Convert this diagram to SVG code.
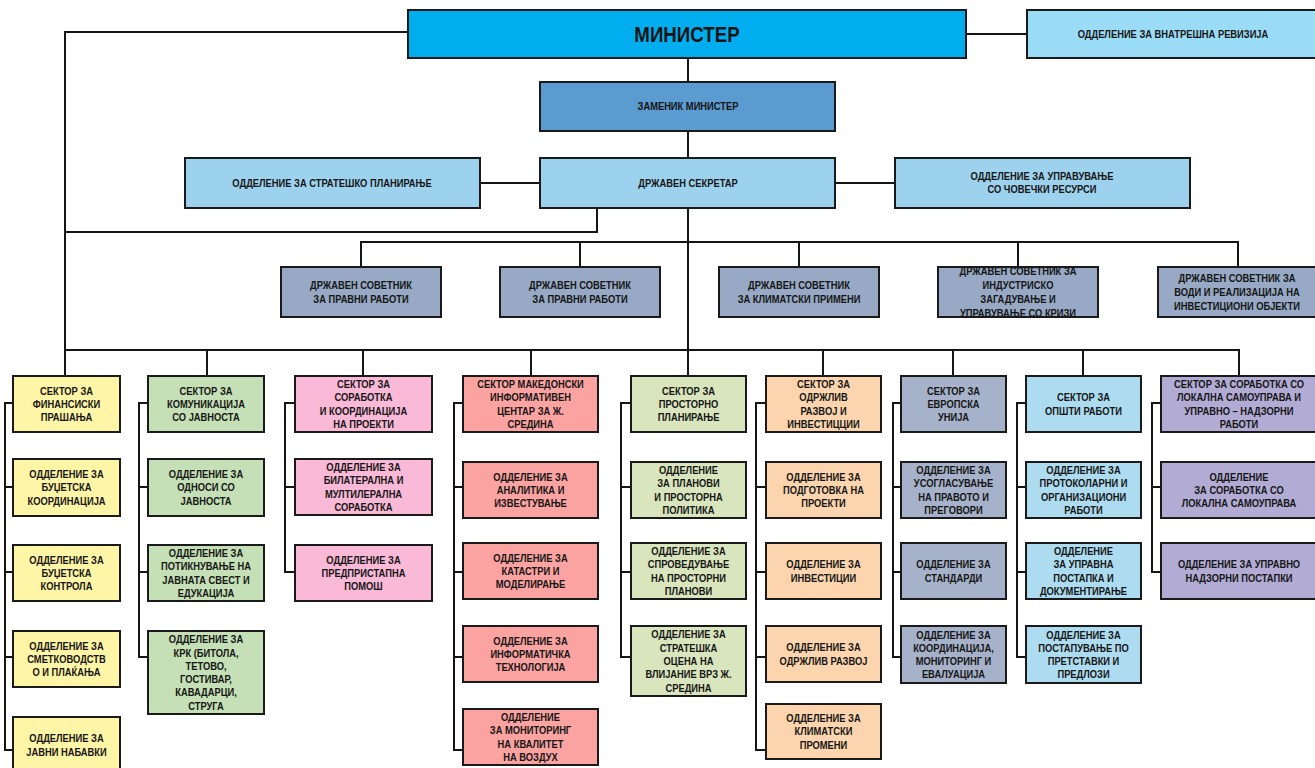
<svg xmlns="http://www.w3.org/2000/svg" width="1315" height="768" viewBox="0 0 1315 768">
<style>
.box{stroke:#1a1a1a;stroke-width:2}
.t{font-family:"Liberation Sans",Arial,sans-serif;font-weight:bold;font-size:11px;text-anchor:middle;fill:#151515}
.big{font-size:22px}
.conn{fill:none;stroke:#151515;stroke-width:2}
.c-min{fill:#00AEEF}.c-rev{fill:#9ADBF5}.c-zam{fill:#5B9BD0}.c-sec{fill:#9DD2EE}.c-adv{fill:#97A9C4}
.c-y{fill:#FFF5A6}.c-g{fill:#C5E0B6}.c-p{fill:#F9B9D7}.c-r{fill:#FBA3A1}.c-o{fill:#D9E5BD}.c-or{fill:#FCD5AE}.c-s7{fill:#A6B2C9}.c-s8{fill:#ADDCF1}.c-s9{fill:#B2ACD5}
</style>
<defs>
<clipPath id="clipA4"><rect x="938" y="267" width="160" height="50"/></clipPath>
</defs>
<rect width="1315" height="768" fill="#fff"/>

<g id="connectors" class="conn">
<path d="M408 32 H65 V376"/>
<path d="M966 34 H1027"/>
<path d="M688 58 V82 M688 131 V158 M688 208 V376"/>
<path d="M480 183 H541 M835 183 H895"/>
<path d="M597 208 V232 H65"/>
<path d="M361 267 V242 H1238 V267 M580 242 V267 M799 242 V267 M1018 242 V267"/>
<path d="M65 350 H1239 V376 M207 350 V376 M363 350 V376 M531 350 V376 M823 350 V376 M953 350 V376 M1083 350 V376"/>
<path d="M13 403 H5 V750 H13 M5 487 H13 M5 572 H13 M5 657 H13"/>
<path d="M148 403 H139 V657 H148 M139 487 H148 M139 572 H148"/>
<path d="M295 403 H285 V572 H295 M285 487 H295"/>
<path d="M463 403 H454 V750 H463 M454 487 H463 M454 572 H463 M454 657 H463"/>
<path d="M631 403 H621 V657 H631 M621 487 H631 M621 572 H631"/>
<path d="M766 403 H756 V750 H766 M756 487 H766 M756 572 H766 M756 657 H766"/>
<path d="M901 403 H893 V657 H901 M893 487 H901 M893 572 H901"/>
<path d="M1026 403 H1017 V657 H1026 M1017 487 H1026 M1017 572 H1026"/>
<path d="M1161 403 H1152 V572 H1161 M1152 487 H1161"/>
</g>

<g id="minister"><rect class="box c-min" x="408" y="10" width="558" height="48"/><text class="t big" transform="translate(687 0) scale(.85 1)" x="0" y="42">МИНИСТЕР</text></g>
<g id="revizija"><rect class="box c-rev" x="1027" y="10" width="292" height="48"/><text class="t" transform="translate(1173 0) scale(.85 1)" x="0" y="38">ОДДЕЛЕНИЕ ЗА ВНАТРЕШНА РЕВИЗИЈА</text></g>
<g id="zamenik"><rect class="box c-zam" x="540" y="82" width="295" height="49"/><text class="t" transform="translate(688 0) scale(.85 1)" x="0" y="110">ЗАМЕНИК МИНИСТЕР</text></g>
<g id="sekretar"><rect class="box c-sec" x="540" y="158" width="295" height="50"/><text class="t" transform="translate(688 0) scale(.85 1)" x="0" y="187">ДРЖАВЕН СЕКРЕТАР</text></g>
<g id="strateshko"><rect class="box c-sec" x="185" y="158" width="295" height="50"/><text class="t" transform="translate(332 0) scale(.85 1)" x="0" y="187">ОДДЕЛЕНИЕ ЗА СТРАТЕШКО ПЛАНИРАЊЕ</text></g>
<g id="hr"><rect class="box c-sec" x="895" y="158" width="295" height="50"/><text class="t" transform="translate(1042 0) scale(.85 1)" y="180.5"><tspan x="0">ОДДЕЛЕНИЕ ЗА УПРАВУВАЊЕ</tspan><tspan x="0" dy="13">СО ЧОВЕЧКИ РЕСУРСИ</tspan></text></g>

<g id="adv1"><rect class="box c-adv" x="281" y="267" width="160" height="50"/><text class="t" transform="translate(361 0) scale(.85 1)" y="289"><tspan x="0">ДРЖАВЕН СОВЕТНИК</tspan><tspan x="0" dy="14">ЗА ПРАВНИ РАБОТИ</tspan></text></g>
<g id="adv2"><rect class="box c-adv" x="500" y="267" width="160" height="50"/><text class="t" transform="translate(580 0) scale(.85 1)" y="289"><tspan x="0">ДРЖАВЕН СОВЕТНИК</tspan><tspan x="0" dy="14">ЗА ПРАВНИ РАБОТИ</tspan></text></g>
<g id="adv3"><rect class="box c-adv" x="719" y="267" width="160" height="50"/><text class="t" transform="translate(799 0) scale(.85 1)" y="289"><tspan x="0">ДРЖАВЕН СОВЕТНИК</tspan><tspan x="0" dy="14">ЗА КЛИМАТСКИ ПРИМЕНИ</tspan></text></g>
<g id="adv4"><rect class="box c-adv" x="938" y="267" width="160" height="50"/><g clip-path="url(#clipA4)"><text class="t" transform="translate(1018 0) scale(.85 1)" y="275"><tspan x="0">ДРЖАВЕН СОВЕТНИК ЗА</tspan><tspan x="0" dy="14">ИНДУСТРИСКО</tspan><tspan x="0" dy="14">ЗАГАДУВАЊЕ И</tspan><tspan x="0" dy="14">УПРАВУВАЊЕ СО КРИЗИ</tspan></text></g><rect x="938" y="267" width="160" height="50" fill="none" stroke="#1a1a1a" stroke-width="2"/></g>
<g id="adv5"><rect class="box c-adv" x="1158" y="267" width="160" height="50"/><text class="t" transform="translate(1237 0) scale(.85 1)" y="282"><tspan x="0">ДРЖАВЕН СОВЕТНИК ЗА</tspan><tspan x="0" dy="14">ВОДИ И РЕАЛИЗАЦИЈА НА</tspan><tspan x="0" dy="14">ИНВЕСТИЦИОНИ ОБЈЕКТИ</tspan></text></g>

<g id="s1"><rect class="box c-y" x="13" y="376" width="107" height="56"/><text class="t" transform="translate(66.5 0) scale(.85 1)" y="394.7"><tspan x="0">СЕКТОР ЗА</tspan><tspan x="0" dy="13.3">ФИНАНСИСКИ</tspan><tspan x="0" dy="13.3">ПРАШАЊА</tspan></text></g>
<g id="s1-1"><rect class="box c-y" x="13" y="459" width="107" height="57"/><text class="t" transform="translate(66.5 0) scale(.85 1)" y="478.2"><tspan x="0">ОДДЕЛЕНИЕ ЗА</tspan><tspan x="0" dy="13.3">БУЏЕТСКА</tspan><tspan x="0" dy="13.3">КООРДИНАЦИЈА</tspan></text></g>
<g id="s1-2"><rect class="box c-y" x="13" y="545" width="107" height="56"/><text class="t" transform="translate(66.5 0) scale(.85 1)" y="563.7"><tspan x="0">ОДДЕЛЕНИЕ ЗА</tspan><tspan x="0" dy="13.3">БУЏЕТСКА</tspan><tspan x="0" dy="13.3">КОНТРОЛА</tspan></text></g>
<g id="s1-3"><rect class="box c-y" x="13" y="631" width="107" height="56"/><text class="t" transform="translate(66.5 0) scale(.85 1)" y="649.7"><tspan x="0">ОДДЕЛЕНИЕ ЗА</tspan><tspan x="0" dy="13.3">СМЕТКОВОДСТВ</tspan><tspan x="0" dy="13.3">О И ПЛАЌАЊА</tspan></text></g>
<g id="s1-4"><rect class="box c-y" x="13" y="717" width="107" height="70"/><text class="t" transform="translate(66.5 0) scale(.85 1)" y="742.35"><tspan x="0">ОДДЕЛЕНИЕ ЗА</tspan><tspan x="0" dy="13.3">ЈАВНИ НАБАВКИ</tspan></text></g>

<g id="s2"><rect class="box c-g" x="148" y="376" width="116" height="56"/><text class="t" transform="translate(206 0) scale(.85 1)" y="394.7"><tspan x="0">СЕКТОР ЗА</tspan><tspan x="0" dy="13.3">КОМУНИКАЦИЈА</tspan><tspan x="0" dy="13.3">СО ЈАВНОСТА</tspan></text></g>
<g id="s2-1"><rect class="box c-g" x="148" y="459" width="116" height="57"/><text class="t" transform="translate(206 0) scale(.85 1)" y="478.2"><tspan x="0">ОДДЕЛЕНИЕ ЗА</tspan><tspan x="0" dy="13.3">ОДНОСИ СО</tspan><tspan x="0" dy="13.3">ЈАВНОСТА</tspan></text></g>
<g id="s2-2"><rect class="box c-g" x="148" y="545" width="116" height="56"/><text class="t" transform="translate(206 0) scale(.85 1)" y="557.05"><tspan x="0">ОДДЕЛЕНИЕ ЗА</tspan><tspan x="0" dy="13.3">ПОТИКНУВАЊЕ НА</tspan><tspan x="0" dy="13.3">ЈАВНАТА СВЕСТ И</tspan><tspan x="0" dy="13.3">ЕДУКАЦИЈА</tspan></text></g>
<g id="s2-3"><rect class="box c-g" x="148" y="631" width="116" height="83"/><text class="t" transform="translate(206 0) scale(.85 1)" y="643.25"><tspan x="0">ОДДЕЛЕНИЕ ЗА</tspan><tspan x="0" dy="13.3">КРК (БИТОЛА,</tspan><tspan x="0" dy="13.3">ТЕТОВО,</tspan><tspan x="0" dy="13.3">ГОСТИВАР,</tspan><tspan x="0" dy="13.3">КАВАДАРЦИ,</tspan><tspan x="0" dy="13.3">СТРУГА</tspan></text></g>

<g id="s3"><rect class="box c-p" x="295" y="376" width="137" height="56"/><text class="t" transform="translate(363.5 0) scale(.85 1)" y="388.05"><tspan x="0">СЕКТОР ЗА</tspan><tspan x="0" dy="13.3">СОРАБОТКА</tspan><tspan x="0" dy="13.3">И КООРДИНАЦИЈА</tspan><tspan x="0" dy="13.3">НА ПРОЕКТИ</tspan></text></g>
<g id="s3-1"><rect class="box c-p" x="295" y="459" width="137" height="56"/><text class="t" transform="translate(363.5 0) scale(.85 1)" y="471.05"><tspan x="0">ОДДЕЛЕНИЕ ЗА</tspan><tspan x="0" dy="13.3">БИЛАТЕРАЛНА И</tspan><tspan x="0" dy="13.3">МУЛТИЛЕРАЛНА</tspan><tspan x="0" dy="13.3">СОРАБОТКА</tspan></text></g>
<g id="s3-2"><rect class="box c-p" x="295" y="545" width="137" height="56"/><text class="t" transform="translate(363.5 0) scale(.85 1)" y="563.7"><tspan x="0">ОДДЕЛЕНИЕ ЗА</tspan><tspan x="0" dy="13.3">ПРЕДПРИСТАПНА</tspan><tspan x="0" dy="13.3">ПОМОШ</tspan></text></g>

<g id="s4"><rect class="box c-r" x="463" y="376" width="135" height="56"/><text class="t" transform="translate(530.5 0) scale(.85 1)" y="388.05"><tspan x="0">СЕКТОР МАКЕДОНСКИ</tspan><tspan x="0" dy="13.3">ИНФОРМАТИВЕН</tspan><tspan x="0" dy="13.3">ЦЕНТАР ЗА Ж.</tspan><tspan x="0" dy="13.3">СРЕДИНА</tspan></text></g>
<g id="s4-1"><rect class="box c-r" x="463" y="462" width="135" height="56"/><text class="t" transform="translate(530.5 0) scale(.85 1)" y="480.7"><tspan x="0">ОДДЕЛЕНИЕ ЗА</tspan><tspan x="0" dy="13.3">АНАЛИТИКА И</tspan><tspan x="0" dy="13.3">ИЗВЕСТУВАЊЕ</tspan></text></g>
<g id="s4-2"><rect class="box c-r" x="463" y="543" width="135" height="56"/><text class="t" transform="translate(530.5 0) scale(.85 1)" y="561.7"><tspan x="0">ОДДЕЛЕНИЕ ЗА</tspan><tspan x="0" dy="13.3">КАТАСТРИ И</tspan><tspan x="0" dy="13.3">МОДЕЛИРАЊЕ</tspan></text></g>
<g id="s4-3"><rect class="box c-r" x="463" y="626" width="135" height="56"/><text class="t" transform="translate(530.5 0) scale(.85 1)" y="644.7"><tspan x="0">ОДДЕЛЕНИЕ ЗА</tspan><tspan x="0" dy="13.3">ИНФОРМАТИЧКА</tspan><tspan x="0" dy="13.3">ТЕХНОЛОГИЈА</tspan></text></g>
<g id="s4-4"><rect class="box c-r" x="463" y="709" width="135" height="56"/><text class="t" transform="translate(530.5 0) scale(.85 1)" y="721.05"><tspan x="0">ОДДЕЛЕНИЕ</tspan><tspan x="0" dy="13.3">ЗА МОНИТОРИНГ</tspan><tspan x="0" dy="13.3">НА КВАЛИТЕТ</tspan><tspan x="0" dy="13.3">НА ВОЗДУХ</tspan></text></g>

<g id="s5"><rect class="box c-o" x="631" y="376" width="115" height="56"/><text class="t" transform="translate(688.5 0) scale(.85 1)" y="394.7"><tspan x="0">СЕКТОР ЗА</tspan><tspan x="0" dy="13.3">ПРОСТОРНО</tspan><tspan x="0" dy="13.3">ПЛАНИРАЊЕ</tspan></text></g>
<g id="s5-1"><rect class="box c-o" x="631" y="462" width="115" height="56"/><text class="t" transform="translate(688.5 0) scale(.85 1)" y="474.05"><tspan x="0">ОДДЕЛЕНИЕ</tspan><tspan x="0" dy="13.3">ЗА ПЛАНОВИ</tspan><tspan x="0" dy="13.3">И ПРОСТОРНА</tspan><tspan x="0" dy="13.3">ПОЛИТИКА</tspan></text></g>
<g id="s5-2"><rect class="box c-o" x="631" y="543" width="115" height="56"/><text class="t" transform="translate(688.5 0) scale(.85 1)" y="555.05"><tspan x="0">ОДДЕЛЕНИЕ ЗА</tspan><tspan x="0" dy="13.3">СПРОВЕДУВАЊЕ</tspan><tspan x="0" dy="13.3">НА ПРОСТОРНИ</tspan><tspan x="0" dy="13.3">ПЛАНОВИ</tspan></text></g>
<g id="s5-3"><rect class="box c-o" x="631" y="626" width="115" height="70"/><text class="t" transform="translate(688.5 0) scale(.85 1)" y="638.4"><tspan x="0">ОДДЕЛЕНИЕ ЗА</tspan><tspan x="0" dy="13.3">СТРАТЕШКА</tspan><tspan x="0" dy="13.3">ОЦЕНА НА</tspan><tspan x="0" dy="13.3">ВЛИЈАНИЕ ВРЗ Ж.</tspan><tspan x="0" dy="13.3">СРЕДИНА</tspan></text></g>

<g id="s6"><rect class="box c-or" x="766" y="376" width="115" height="56"/><text class="t" transform="translate(823.5 0) scale(.85 1)" y="388.05"><tspan x="0">СЕКТОР ЗА</tspan><tspan x="0" dy="13.3">ОДРЖЛИВ</tspan><tspan x="0" dy="13.3">РАЗВОЈ И</tspan><tspan x="0" dy="13.3">ИНВЕСТИЦЦИИ</tspan></text></g>
<g id="s6-1"><rect class="box c-or" x="766" y="462" width="115" height="56"/><text class="t" transform="translate(823.5 0) scale(.85 1)" y="480.7"><tspan x="0">ОДДЕЛЕНИЕ ЗА</tspan><tspan x="0" dy="13.3">ПОДГОТОВКА НА</tspan><tspan x="0" dy="13.3">ПРОЕКТИ</tspan></text></g>
<g id="s6-2"><rect class="box c-or" x="766" y="543" width="115" height="56"/><text class="t" transform="translate(823.5 0) scale(.85 1)" y="568.35"><tspan x="0">ОДДЕЛЕНИЕ ЗА</tspan><tspan x="0" dy="13.3">ИНВЕСТИЦИИ</tspan></text></g>
<g id="s6-3"><rect class="box c-or" x="766" y="626" width="115" height="56"/><text class="t" transform="translate(823.5 0) scale(.85 1)" y="651.35"><tspan x="0">ОДДЕЛЕНИЕ ЗА</tspan><tspan x="0" dy="13.3">ОДРЖЛИВ РАЗВОЈ</tspan></text></g>
<g id="s6-4"><rect class="box c-or" x="766" y="704" width="115" height="55"/><text class="t" transform="translate(823.5 0) scale(.85 1)" y="722.2"><tspan x="0">ОДДЕЛЕНИЕ ЗА</tspan><tspan x="0" dy="13.3">КЛИМАТСКИ</tspan><tspan x="0" dy="13.3">ПРОМЕНИ</tspan></text></g>

<g id="s7"><rect class="box c-s7" x="901" y="376" width="105" height="56"/><text class="t" transform="translate(953.5 0) scale(.85 1)" y="394.7"><tspan x="0">СЕКТОР ЗА</tspan><tspan x="0" dy="13.3">ЕВРОПСКА</tspan><tspan x="0" dy="13.3">УНИЈА</tspan></text></g>
<g id="s7-1"><rect class="box c-s7" x="901" y="462" width="105" height="56"/><text class="t" transform="translate(953.5 0) scale(.85 1)" y="474.05"><tspan x="0">ОДДЕЛЕНИЕ ЗА</tspan><tspan x="0" dy="13.3">УСОГЛАСУВАЊЕ</tspan><tspan x="0" dy="13.3">НА ПРАВОТО И</tspan><tspan x="0" dy="13.3">ПРЕГОВОРИ</tspan></text></g>
<g id="s7-2"><rect class="box c-s7" x="901" y="543" width="105" height="56"/><text class="t" transform="translate(953.5 0) scale(.85 1)" y="568.35"><tspan x="0">ОДДЕЛЕНИЕ ЗА</tspan><tspan x="0" dy="13.3">СТАНДАРДИ</tspan></text></g>
<g id="s7-3"><rect class="box c-s7" x="901" y="626" width="105" height="57"/><text class="t" transform="translate(953.5 0) scale(.85 1)" y="638.55"><tspan x="0">ОДДЕЛЕНИЕ ЗА</tspan><tspan x="0" dy="13.3">КООРДИНАЦИЈА,</tspan><tspan x="0" dy="13.3">МОНИТОРИНГ И</tspan><tspan x="0" dy="13.3">ЕВАЛУАЦИЈА</tspan></text></g>

<g id="s8"><rect class="box c-s8" x="1026" y="376" width="115" height="56"/><text class="t" transform="translate(1083.5 0) scale(.85 1)" y="401.35"><tspan x="0">СЕКТОР ЗА</tspan><tspan x="0" dy="13.3">ОПШТИ РАБОТИ</tspan></text></g>
<g id="s8-1"><rect class="box c-s8" x="1026" y="462" width="115" height="56"/><text class="t" transform="translate(1083.5 0) scale(.85 1)" y="474.05"><tspan x="0">ОДДЕЛЕНИЕ ЗА</tspan><tspan x="0" dy="13.3">ПРОТОКОЛАРНИ И</tspan><tspan x="0" dy="13.3">ОРГАНИЗАЦИОНИ</tspan><tspan x="0" dy="13.3">РАБОТИ</tspan></text></g>
<g id="s8-2"><rect class="box c-s8" x="1026" y="543" width="115" height="56"/><text class="t" transform="translate(1083.5 0) scale(.85 1)" y="555.05"><tspan x="0">ОДДЕЛЕНИЕ</tspan><tspan x="0" dy="13.3">ЗА УПРАВНА</tspan><tspan x="0" dy="13.3">ПОСТАПКА И</tspan><tspan x="0" dy="13.3">ДОКУМЕНТИРАЊЕ</tspan></text></g>
<g id="s8-3"><rect class="box c-s8" x="1026" y="626" width="115" height="57"/><text class="t" transform="translate(1083.5 0) scale(.85 1)" y="638.55"><tspan x="0">ОДДЕЛЕНИЕ ЗА</tspan><tspan x="0" dy="13.3">ПОСТАПУВАЊЕ ПО</tspan><tspan x="0" dy="13.3">ПРЕТСТАВКИ И</tspan><tspan x="0" dy="13.3">ПРЕДЛОЗИ</tspan></text></g>

<g id="s9"><rect class="box c-s9" x="1161" y="376" width="158" height="56"/><text class="t" transform="translate(1239 0) scale(.85 1)" y="388.05"><tspan x="0">СЕКТОР ЗА СОРАБОТКА СО</tspan><tspan x="0" dy="13.3">ЛОКАЛНА САМОУПРАВА И</tspan><tspan x="0" dy="13.3">УПРАВНО – НАДЗОРНИ</tspan><tspan x="0" dy="13.3">РАБОТИ</tspan></text></g>
<g id="s9-1"><rect class="box c-s9" x="1161" y="462" width="158" height="56"/><text class="t" transform="translate(1239 0) scale(.85 1)" y="480.7"><tspan x="0">ОДДЕЛЕНИЕ</tspan><tspan x="0" dy="13.3">ЗА СОРАБОТКА СО</tspan><tspan x="0" dy="13.3">ЛОКАЛНА САМОУПРАВА</tspan></text></g>
<g id="s9-2"><rect class="box c-s9" x="1161" y="543" width="158" height="56"/><text class="t" transform="translate(1239 0) scale(.85 1)" y="568.35"><tspan x="0">ОДДЕЛЕНИЕ ЗА УПРАВНО</tspan><tspan x="0" dy="13.3">НАДЗОРНИ ПОСТАПКИ</tspan></text></g>
</svg>
